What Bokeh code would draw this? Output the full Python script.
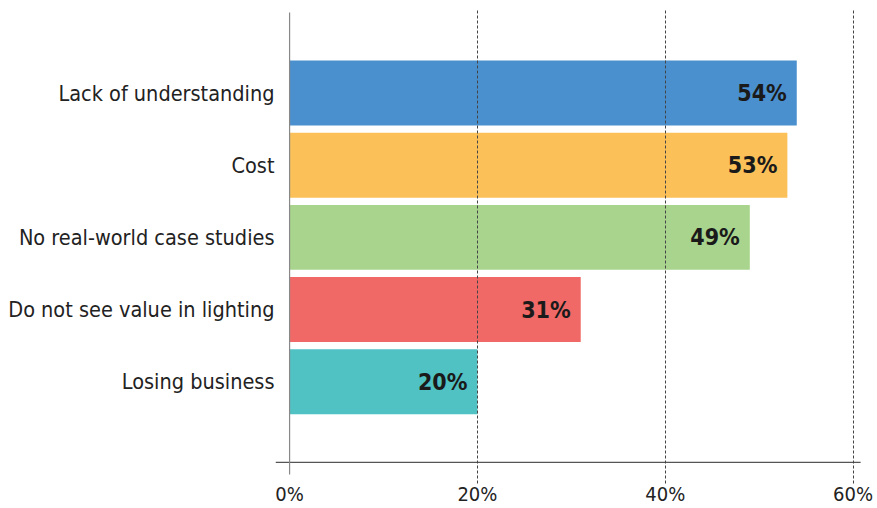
from bokeh.plotting import figure
from bokeh.models import Range1d, FixedTicker, PrintfTickFormatter, ColumnDataSource
from bokeh.core.properties import value
from bokeh.embed import file_html
from bokeh.resources import INLINE

categories = ["Lack of understanding", "Cost", "No real-world case studies",
              "Do not see value in lighting", "Losing business"]
values = [54, 53, 49, 31, 20]
colors = ["#4A8FCE", "#FBC158", "#A8D48D", "#F06966", "#50C2C3"]
x_ticks = [0, 20, 40, 60]

FONT = "DejaVu Sans Condensed"

pos = list(range(len(categories)))
src = ColumnDataSource(dict(
    y=pos, v=values, c=colors,
    lbl=[f"{v}%" for v in values],
))

p = figure(width=877, height=508, output_backend="svg", toolbar_location=None,
           x_range=Range1d(-1.5, 61), y_range=Range1d(5.41, -1.143),
           min_border_left=275, min_border_right=15, min_border_top=10,
           min_border_bottom=25, outline_line_color=None)

p.hbar(y="y", left=0, right="v", height=0.9, color="c", line_color=None, source=src)

# axis lines
p.segment(x0=[-1.5], y0=[5.117], x1=[60.8], y1=[5.117], line_color="#555555", line_width=1.2)
p.segment(x0=[0], y0=[-1.115], x1=[0], y1=[5.285], line_color="#888888", line_width=1.2)

p.text(x="v", y="y", text="lbl", source=src, x_offset=-10,
       text_align="right", text_baseline="middle",
       text_font=value(FONT), text_font_style="bold", text_font_size="23px",
       text_color="#1a1a1a")

p.xaxis.ticker = FixedTicker(ticks=x_ticks)
p.xaxis.formatter = PrintfTickFormatter(format="%d%%")
p.xaxis.axis_line_color = None
p.xaxis.major_tick_line_color = None
p.xaxis.minor_tick_line_color = None
p.xaxis.major_tick_out = 0
p.xaxis.major_label_standoff = -2
p.xaxis.major_label_text_font = FONT
p.xaxis.major_label_text_font_size = "20px"
p.xaxis.major_label_text_color = "#222222"

p.yaxis.ticker = FixedTicker(ticks=pos)
p.yaxis.major_label_overrides = {i: c for i, c in enumerate(categories)}
p.yaxis.axis_line_color = None
p.yaxis.major_tick_line_color = None
p.yaxis.minor_tick_line_color = None
p.yaxis.major_tick_out = 0
p.yaxis.major_label_standoff = 1
p.yaxis.major_label_text_font = FONT
p.yaxis.major_label_text_font_size = "21.5px"
p.yaxis.major_label_text_color = "#222222"

p.ygrid.grid_line_color = None
p.xgrid.ticker = FixedTicker(ticks=x_ticks[1:])
p.xgrid.grid_line_color = "#444444"
p.xgrid.grid_line_dash = "3 2"
p.xgrid.grid_line_width = 1
p.xgrid.level = "overlay"

open("out.html", "w").write(file_html(p, INLINE))
